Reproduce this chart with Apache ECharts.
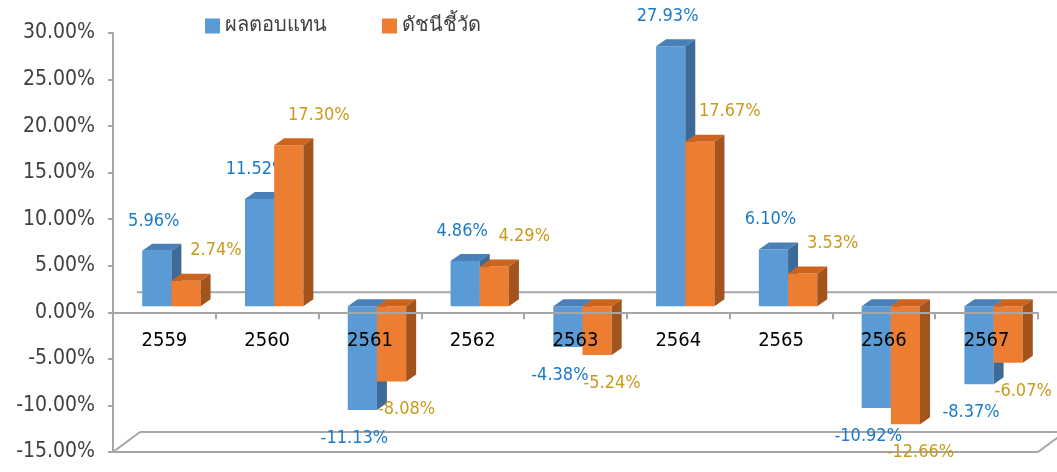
<!DOCTYPE html>
<html>
<head>
    <meta charset="UTF-8">
    <title>ผลตอบแทน / ดัชนีชี้วัด</title>
    <script src="https://cdn.jsdelivr.net/npm/echarts@6/dist/echarts.min.js"></script>
    <style>
        body { margin: 0; background: #fff; }
        #chart { width: 1057px; height: 472px; }
    </style>
</head>
<body>
    <div id="chart"></div>
    <script>
    // ข้อมูล
    const years = ['2559', '2560', '2561', '2562', '2563', '2564', '2565', '2566', '2567'];
    const returnVals = [5.96, 11.52, -11.13, 4.86, -4.38, 27.93, 6.10, -10.92, -8.37];
    const indexVals = [2.74, 17.30, -8.08, 4.29, -5.24, 17.67, 3.53, -12.66, -6.07];
    const seriesNames = ['ผลตอบแทน', 'ดัชนีชี้วัด'];
    const yMin = -15, yMax = 30, yStep = 5;

    const FONT = '"DejaVu Sans Condensed", "DejaVu Sans", Tahoma, sans-serif';
    // 3D look: bars sit a bit behind the front plane, back wall further back
    const BAR_DX = 7, BAR_DY = 6;
    const BACK_DX = 27, BACK_DY = 20;
    const DEPTH_X = 10, DEPTH_Y = 7;

    const palette = [
        { front: '#5b9bd5', top: '#4a80b8', side: '#3d6a96', text: '#1a7ac9' },
        { front: '#ed7d31', top: '#cc641f', side: '#a3531c', text: '#c99a1c' }
    ];

    function barRender(side) {
        const col = palette[side];
        return function (params, api) {
            const i = api.value(0), v = api.value(1);
            const band = api.size([1, 0])[0];
            const w = band * 0.284;
            const zero = api.coord([i, 0]);
            const end = api.coord([i, v]);
            const cx = zero[0] + BAR_DX;
            const base = zero[1] - BAR_DY;
            const tip = end[1] - BAR_DY;
            const x0 = side === 0 ? cx - w : cx;
            const x1 = x0 + w;
            const yTop = Math.min(base, tip), yBot = Math.max(base, tip);
            const mid = (x0 + x1) / 2;
            let lx, ly;
            if (side === 0) {
                lx = v >= 0 ? mid - 3 : mid - 8;
                ly = v >= 0 ? yTop - 30 : yBot + 28;
            } else {
                lx = v >= 0 ? mid + 30 : mid + 15;
                ly = v >= 0 ? yTop - 30 : yBot + 28;
            }
            return {
                type: 'group',
                children: [
                    { type: 'rect', shape: { x: x0, y: yTop, width: w, height: yBot - yTop },
                      style: { fill: col.front } },
                    { type: 'polygon', shape: { points: [[x0, yTop], [x0 + DEPTH_X, yTop - DEPTH_Y],
                        [x1 + DEPTH_X, yTop - DEPTH_Y], [x1, yTop]] }, style: { fill: col.top } },
                    { type: 'polygon', shape: { points: [[x1, yTop], [x1 + DEPTH_X, yTop - DEPTH_Y],
                        [x1 + DEPTH_X, yBot - DEPTH_Y], [x1, yBot]] }, style: { fill: col.side } },
                    { type: 'text', x: lx, y: ly, z2: 100,
                      style: { text: v.toFixed(2) + '%', fill: col.text, font: '18px ' + FONT,
                               align: 'center', verticalAlign: 'middle' } }
                ]
            };
        };
    }

    // floor and back-wall lines
    function decorRender(params, api) {
        const cs = params.coordSys;
        const zeroY = api.coord([0, 0])[1];
        const xl = cs.x, xr = cs.x + cs.width, yb = cs.y + cs.height;
        const ls = { stroke: '#a6a6a6', lineWidth: 2 };
        const line = (a, b, c, d) => ({ type: 'line', shape: { x1: a, y1: b, x2: c, y2: d }, style: ls });
        return {
            type: 'group',
            children: [
                line(xl + BACK_DX - 3, zeroY - BACK_DY, xr + BACK_DX, zeroY - BACK_DY),
                line(xl, yb, xr, yb),
                line(xl, yb, xl + BACK_DX, yb - BACK_DY),
                line(xl + BACK_DX, yb - BACK_DY, xr + BACK_DX, yb - BACK_DY),
                line(xr, yb, xr + BACK_DX, yb - BACK_DY)
            ]
        };
    }

    // year labels just under the zero line, drawn over the bars
    function yearRender(params, api) {
        const p = api.coord([api.value(0), 0]);
        return {
            type: 'text', x: p[0], y: p[1] + 28,
            style: { text: years[api.value(0)], fill: '#000', font: '20px ' + FONT,
                     align: 'center', verticalAlign: 'middle' }
        };
    }

    const chart = echarts.init(document.getElementById('chart'));
    chart.setOption({
        backgroundColor: '#fff',
        animation: false,
        legend: {
            data: seriesNames,
            left: 200,
            top: 11,
            icon: 'rect',
            itemWidth: 15,
            itemHeight: 15,
            itemGap: 55,
            textStyle: { fontSize: 20, color: '#404040', fontFamily: 'Tahoma, "DejaVu Sans", sans-serif' }
        },
        grid: { left: 113, right: 19, top: 33, bottom: 20, containLabel: false, outerBoundsMode: 'none' },
        xAxis: {
            type: 'category',
            data: years,
            z: 10,
            axisLine: { onZero: true, lineStyle: { color: '#a6a6a6', width: 2 } },
            axisTick: { show: true, length: 7, lineStyle: { color: '#a6a6a6', width: 2 } },
            axisLabel: { show: false },
            splitLine: { show: false }
        },
        yAxis: {
            type: 'value',
            min: yMin,
            max: yMax,
            interval: yStep,
            axisLine: { show: true, lineStyle: { color: '#a6a6a6', width: 2 } },
            axisTick: { show: true, length: 5, lineStyle: { color: '#a6a6a6', width: 2 } },
            axisLabel: { margin: 18, color: '#404040', fontSize: 21, fontFamily: FONT,
                         formatter: v => v.toFixed(2) + '%' },
            splitLine: { show: false }
        },
        series: [
            { type: 'custom', name: 'decor', z: 1, silent: true, renderItem: decorRender, data: [[0, 0]] },
            { type: 'custom', name: seriesNames[0], z: 2, renderItem: barRender(0),
              itemStyle: { color: palette[0].front },
              data: returnVals.map((v, i) => [i, v]) },
            { type: 'custom', name: seriesNames[1], z: 3, renderItem: barRender(1),
              itemStyle: { color: palette[1].front },
              data: indexVals.map((v, i) => [i, v]) },
            { type: 'custom', name: 'years', z: 11, silent: true, renderItem: yearRender,
              data: years.map((y, i) => [i, 0]) }
        ]
    });
    </script>
</body>
</html>
